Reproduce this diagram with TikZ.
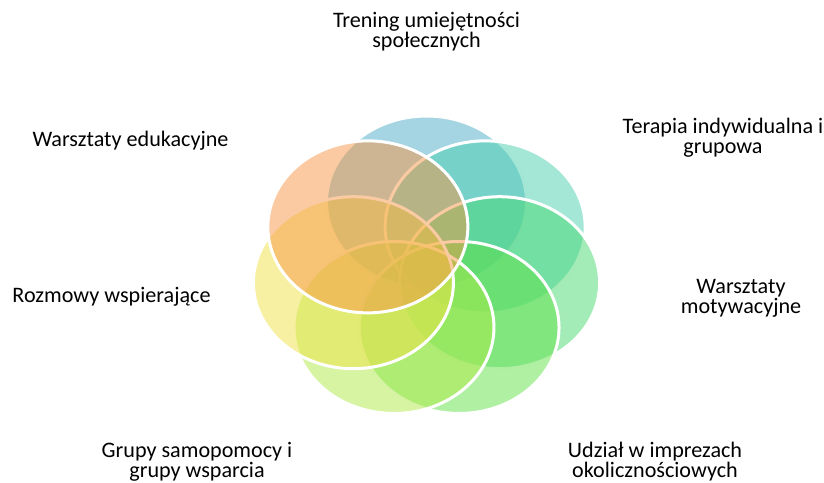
\documentclass[tikz,border=0pt]{standalone}
\usepackage{fontspec}
\setmainfont{Carlito}
\usetikzlibrary{positioning}

\definecolor{cTrening}{RGB}{75,172,198}
\definecolor{cTerapia}{RGB}{73,207,174}
\definecolor{cMotyw}{RGB}{71,216,112}
\definecolor{cImprezy}{RGB}{96,225,71}
\definecolor{cGrupy}{RGB}{173,233,70}
\definecolor{cRozmowy}{RGB}{240,226,70}
\definecolor{cEduk}{RGB}{247,150,70}

\tikzset{
  petal/.style={draw=white, line width=2.25pt, fill=#1, fill opacity=0.5},
  lbl/.style={inner sep=0.75pt, align=center, font=\fontsize{16.6}{15}\selectfont}
}

\begin{document}
\begin{tikzpicture}[x=0.75pt,y=0.75pt,yscale=-1,xscale=1]
            \useasboundingbox (0,0) rectangle (824,482);

            \foreach \ang/\col in {90/cTrening, 38.57/cTerapia, -12.86/cMotyw, -64.29/cImprezy, -115.71/cGrupy, -167.14/cRozmowy, 141.43/cEduk}
                \draw [petal=\col] ({426.5+75*cos(\ang)},{268-66*sin(\ang)}) ellipse [x radius=100, y radius=86];

            % two-line labels: base sits on the last line
            \node [lbl, anchor=base] (trening) at (426.5,47.7) {Trening umiejętności\\społecznych};
            \node [lbl, anchor=base] (terapia) at (723,153.5) {Terapia indywidualna i\\grupowa};
            \node [lbl, anchor=base] (motywacja) at (741,313.3) {Warsztaty\\motywacyjne};
            \node [lbl, anchor=base] (imprezy) at (655,477.7) {Udział w imprezach\\okolicznościowych};
            \node [lbl, anchor=base] (grupy) at (197,477.7) {Grupy samopomocy i\\grupy wsparcia};
            \node [lbl, anchor=base] (rozmowy) at (111.5,302.7) {Rozmowy wspierające};
            \node [lbl, anchor=base] (edukacja) at (130.5,146) {Warsztaty edukacyjne};
        \end{tikzpicture}
\end{document}
